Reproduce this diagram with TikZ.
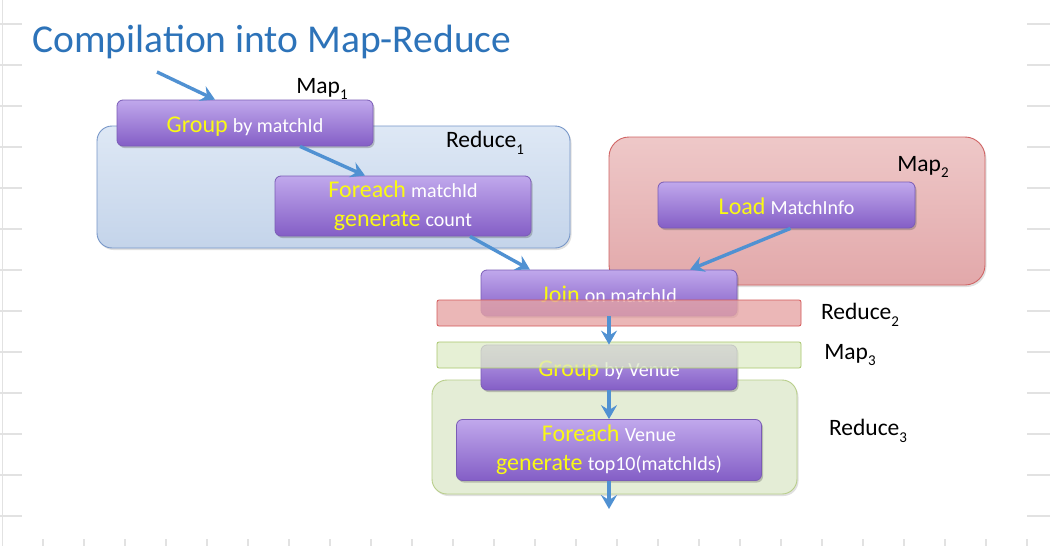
\documentclass[tikz,border=0pt]{standalone}
\usepackage{fontspec}
\setmainfont{Carlito}
\usetikzlibrary{arrows.meta,shadows}
\definecolor{titleblue}{RGB}{45,115,185}
\definecolor{ptop}{RGB}{192,168,236}
\definecolor{pbot}{RGB}{132,94,198}
\definecolor{pborder}{RGB}{122,92,182}
\definecolor{btop}{RGB}{222,232,245}
\definecolor{bbot}{RGB}{196,212,234}
\definecolor{bborder}{RGB}{118,150,200}
\definecolor{rtop}{RGB}{238,200,200}
\definecolor{rbot}{RGB}{226,168,170}
\definecolor{rborder}{RGB}{208,100,100}
\definecolor{gfill}{RGB}{228,237,214}
\definecolor{gborder}{RGB}{184,206,138}
\definecolor{bandred}{RGB}{230,165,165}
\definecolor{bandredb}{RGB}{212,88,88}
\definecolor{bandgreen}{RGB}{222,235,200}
\definecolor{bandgreenb}{RGB}{168,198,108}
\definecolor{arrowblue}{RGB}{80,145,210}
\definecolor{kwy}{RGB}{250,250,20}
\definecolor{gridc}{RGB}{226,226,226}
\newcommand\kw[1]{{\color{kwy}\fontsize{24}{29}\selectfont #1}}
\newcommand\rt[1]{{\color{white}\fontsize{20}{29}\selectfont #1}}
\newcommand\mysub[1]{\raisebox{-0.28em}{\fontsize{15}{15}\selectfont #1}}
\begin{document}
\begin{tikzpicture}[x=1pt,y=-1pt,
  gridline/.style={draw=gridc,line width=1.3pt},
  opbox/.style={rectangle,rounded corners=6pt,draw=pborder,line width=0.8pt,
    top color=ptop,bottom color=pbot,inner sep=0pt,align=center,
    font=\fontsize{23}{29}\selectfont,
    drop shadow={shadow xshift=1.5pt,shadow yshift=-2pt,opacity=0.3,fill=black!70}},
  oneline/.style={text height=18pt,text depth=0pt},
  bluebox/.style={rectangle,rounded corners=15pt,draw=bborder,line width=0.9pt,
    top color=btop,bottom color=bbot,inner sep=0pt,
    drop shadow={shadow xshift=1.5pt,shadow yshift=-2pt,opacity=0.2,fill=black!60}},
  redbox/.style={rectangle,rounded corners=20pt,draw=rborder,line width=0.9pt,
    top color=rtop,bottom color=rbot,inner sep=0pt,
    drop shadow={shadow xshift=1.5pt,shadow yshift=-2pt,opacity=0.2,fill=black!60}},
  greenbox/.style={rectangle,rounded corners=15pt,draw=gborder,line width=0.9pt,
    fill=gfill,inner sep=0pt,
    drop shadow={shadow xshift=1.5pt,shadow yshift=-2pt,opacity=0.2,fill=black!60}},
  redband/.style={rectangle,rounded corners=2pt,draw=bandredb,line width=0.8pt,
    fill=bandred,fill opacity=0.8,inner sep=0pt},
  greenband/.style={rectangle,rounded corners=2pt,draw=bandgreenb,line width=0.8pt,
    fill=bandgreen,fill opacity=0.75,inner sep=0pt},
  lbl/.style={font=\fontsize{23.5}{23.5}\selectfont,text=black,inner sep=0pt},
  flow/.style={draw=arrowblue,line width=3.4pt,
    -{Stealth[length=14pt,width=16pt,inset=5pt]}}
]
\useasboundingbox (0,0) rectangle (1050,546);
\fill[white] (0,0) rectangle (1050,546);
% faint grid
\foreach \y in {24,65,...,516} {
  \draw[gridline] (0,\y) -- (22,\y);
  \draw[gridline] (1027,\y) -- (1050,\y);
}
\foreach \x in {43,84,...,1027} {
  \draw[gridline] (\x,539) -- (\x,546);
}
\draw[gridline] (2.5,0) -- (2.5,546);

% title
\node[anchor=base west,text=titleblue,font=\fontsize{39.5}{39.5}\selectfont,inner sep=0pt]
  (title) at (32,52) {Compilation into Map-Reduce};

% Reduce1 container and its boxes
\node[bluebox,minimum width=473pt,minimum height=122pt] (red1) at (333.5,187) {};
\node[opbox,oneline,minimum width=256pt,minimum height=46pt] (grp) at (245,123)
  {\kw{Group} \rt{by matchId}};
\node[opbox,minimum width=256pt,minimum height=60pt] (fe1) at (403,206)
  {\kw{Foreach} \rt{matchId}\\\kw{generate} \rt{count}};

% Map2 container
\node[redbox,minimum width=376pt,minimum height=148pt] (map2) at (797,211) {};
\node[opbox,oneline,minimum width=257pt,minimum height=46pt] (load) at (786.5,205)
  {\kw{Load} \rt{MatchInfo}};

% Join and Reduce2 band
\node[opbox,oneline,minimum width=256pt,minimum height=46pt] (join) at (609,293)
  {\kw{Join} \rt{on matchId}};
\node[redband,minimum width=364pt,minimum height=26pt] (band2) at (619,313) {};

% Reduce3 container, Group by Venue, Map3 band
\node[greenbox,minimum width=365pt,minimum height=114pt] (red3) at (614.5,437) {};
\node[opbox,oneline,minimum width=256pt,minimum height=45pt] (gv) at (609,367.5)
  {\kw{Group} \rt{by Venue}};
\node[greenband,minimum width=364pt,minimum height=26pt] (band3) at (619,355) {};
\node[opbox,minimum width=305pt,minimum height=61pt] (fev) at (609,450)
  {\kw{Foreach} \rt{Venue}\\\kw{generate} \rt{top10(matchIds)}};

% labels
\node[lbl] (lmap1) at (322,89) {Map\mysub{1}};
\node[lbl] (lred1) at (485,143) {Reduce\mysub{1}};
\node[lbl] (lmap2) at (923,167) {Map\mysub{2}};
\node[lbl] (lred2) at (860,315) {Reduce\mysub{2}};
\node[lbl] (lmap3) at (850,355) {Map\mysub{3}};
\node[lbl] (lred3) at (868,431) {Reduce\mysub{3}};

% connectors
\coordinate (in) at (157,72);
\coordinate (out) at (609,509);
\draw[flow] (in) -- ([xshift=-30pt]grp.north);
\draw[flow] ([xshift=55pt]grp.south) -- ([xshift=-38pt]fe1.north);
\draw[flow] ([xshift=67pt]fe1.south) -- ([xshift=-79pt]join.north);
\draw[flow] ([xshift=4pt]load.south) -- ([xshift=81pt]join.north);
\draw[flow] (join.south) -- (gv.north);
\draw[flow] (gv.south) -- (gv.south |- fev.north);
\draw[flow] (fev.south -| gv.south) -- (out);
\end{tikzpicture}
\end{document}
